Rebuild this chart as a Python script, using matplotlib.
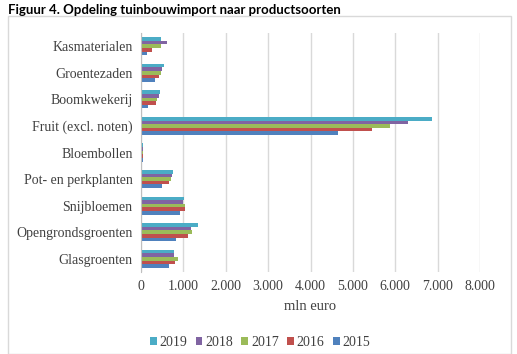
import numpy as np
import matplotlib.pyplot as plt
from matplotlib.patches import Rectangle

# --- Data (mln euro) ---
categories = ['Kasmaterialen', 'Groentezaden', 'Boomkwekerij', 'Fruit (excl. noten)',
              'Bloembollen', 'Pot- en perkplanten', 'Snijbloemen',
              'Opengrondsgroenten', 'Glasgroenten']
years = ['2019', '2018', '2017', '2016', '2015']
v2019 = [470, 550, 440, 6870, 45, 760, 1020, 1340, 780]
v2018 = [610, 495, 415, 6290, 45, 730, 990, 1170, 780]
v2017 = [470, 465, 370, 5870, 45, 700, 1035, 1210, 865]
v2016 = [270, 415, 345, 5450, 45, 650, 1030, 1115, 795]
v2015 = [135, 340, 155, 4650, 40, 495, 910, 825, 650]
colors = ['#4bacc6', '#8064a2', '#9bbb59', '#c0504d', '#4f81bd']

series = [v2019, v2018, v2017, v2016, v2015]

fig = plt.figure(figsize=(5.17, 3.54), dpi=100)
ax = fig.add_axes([141/517, 1 - 272/354, (480 - 141)/517, (272 - 33)/354])

# chart border
fig.patches.append(Rectangle((8/517, 0), (511 - 8)/517, (354 - 20)/354 + 0.01,
                             transform=fig.transFigure, fill=False,
                             ec='#d9d9d9', lw=1))

y = np.arange(len(categories))
group_h = 0.68
bh = group_h / len(series)
for i, (vals, c, yr) in enumerate(zip(series, colors, years)):
    offs = -group_h / 2 + bh * (i + 0.5)
    ax.barh(y + offs, vals, height=bh, color=c, label=yr)

ax.set_ylim(len(categories) - 0.5, -0.5)
ax.set_xlim(0, 8000)
ax.set_xticks(np.arange(0, 8001, 1000))
ax.set_xticklabels(['0'] + [f'{t // 1000}.000' for t in range(1000, 8001, 1000)],
                   family='Liberation Serif', fontsize=10, color='#404040')
ax.set_yticks(y)
ax.set_yticklabels(categories, family='Liberation Serif', fontsize=10, color='#404040')
ax.tick_params(length=0, pad=6)
ax.grid(axis='x', color='#d9d9d9', lw=1)
ax.set_axisbelow(True)
for s in ['top', 'right', 'bottom']:
    ax.spines[s].set_visible(False)
ax.spines['left'].set_color('#bfbfbf')
ax.set_xlabel('mln euro', family='Liberation Serif', fontsize=10.5, color='#404040', labelpad=5)

fig.legend(loc='center', bbox_to_anchor=(260/517, 1 - 342/354), ncol=5, frameon=False,
           prop={'family': 'Liberation Serif', 'size': 10},
           handlelength=0.5, handleheight=0.5, handletextpad=0.2, columnspacing=0.6,
           labelcolor='#404040')

fig.text(8/517, 1 - 10/354, 'Figuur 4. Opdeling tuinbouwimport naar productsoorten',
         fontsize=9.5, fontweight='bold', family='Lato', va='center', ha='left')

plt.savefig('out.png', dpi=100)
plt.close()
